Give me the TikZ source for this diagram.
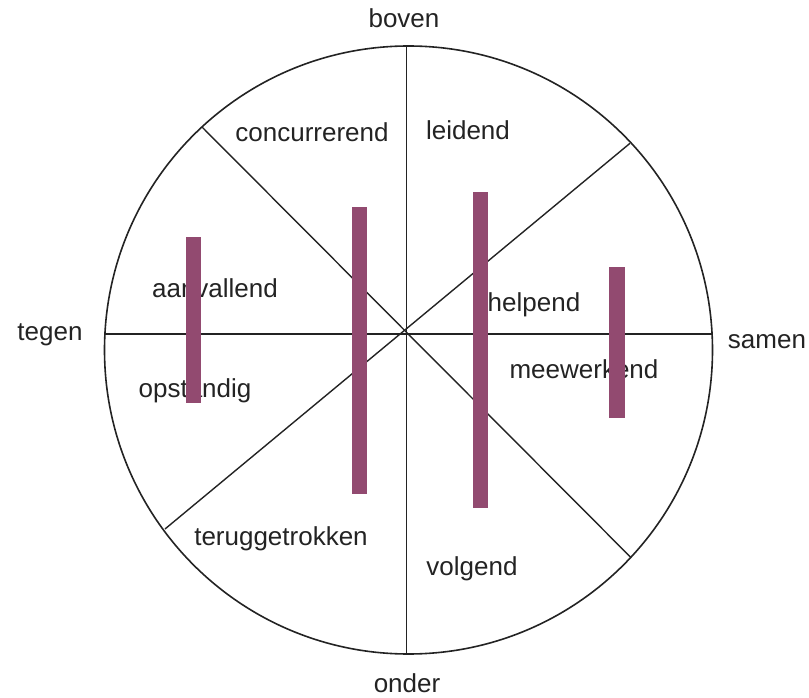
\documentclass[tikz,border=0pt]{standalone}
\usepackage{fontspec}
\setmainfont{Liberation Sans}
\usetikzlibrary{positioning}
\definecolor{barplum}{RGB}{146,74,112}
\definecolor{inkgray}{RGB}{35,35,35}
\tikzset{
  lbl/.style ={inner sep=0pt, anchor=base, font=\fontsize{26}{30}\selectfont, text=inkgray},
  rim/.style ={draw=inkgray, line width=1.6pt},
  spoke/.style={draw=inkgray, line width=1.4pt},
  bar/.style ={fill=barplum, draw=none},
}

\begin{document}
\begin{tikzpicture}[x=1pt, y=-1pt]
\useasboundingbox (0,0) rectangle (809,698);

% circle
\coordinate (mid) at (408.5,350);
\draw[rim] (mid) circle[radius=304pt];

% points on the rim and the crossing
\coordinate (hub) at (406.5,334);
\coordinate (n)  at (406.5,47);
\coordinate (s)  at (406.5,653);
\coordinate (w)  at (105,334);
\coordinate (e)  at (712,334);
\coordinate (nw) at (201.7,126.7);
\coordinate (se) at (630.7,557.3);
\coordinate (ne) at (630,143.3);
\coordinate (sw) at (165,529);

\draw[spoke] (n) -- (s);
\draw[spoke] (w) -- (e);
\draw[spoke] (nw) -- (se);
\draw[spoke] (ne) -- (sw);

% outer labels
\node[lbl] (boven) at (404,28)  {boven};
\node[lbl] (onder) at (407,692) {onder};
\node[lbl] (tegen) at (50,340)  {tegen};
\node[lbl] (samen) at (767,348) {samen};

% sector labels
\node[lbl] (concur)  at (312,142) {concurrerend};
\node[lbl] (leid)    at (468,140) {leidend};
\node[lbl] (aanval)  at (215,297) {aanvallend};
\node[lbl] (opstand) at (195,397) {opstandig};
\node[lbl] (help)    at (534,311) {helpend};
\node[lbl] (meewerk) at (584,378) {meewerkend};
\node[lbl] (terug)   at (281,545) {teruggetrokken};
\node[lbl] (volg)    at (472,575) {volgend};

% bars
\foreach \xa/\ya/\xb/\yb in {186/237/201/403, 352/207/367/494, 473/192/488/508, 609/267/625/418}
  \fill[bar] (\xa,\ya) rectangle (\xb,\yb);
\end{tikzpicture}
\end{document}
